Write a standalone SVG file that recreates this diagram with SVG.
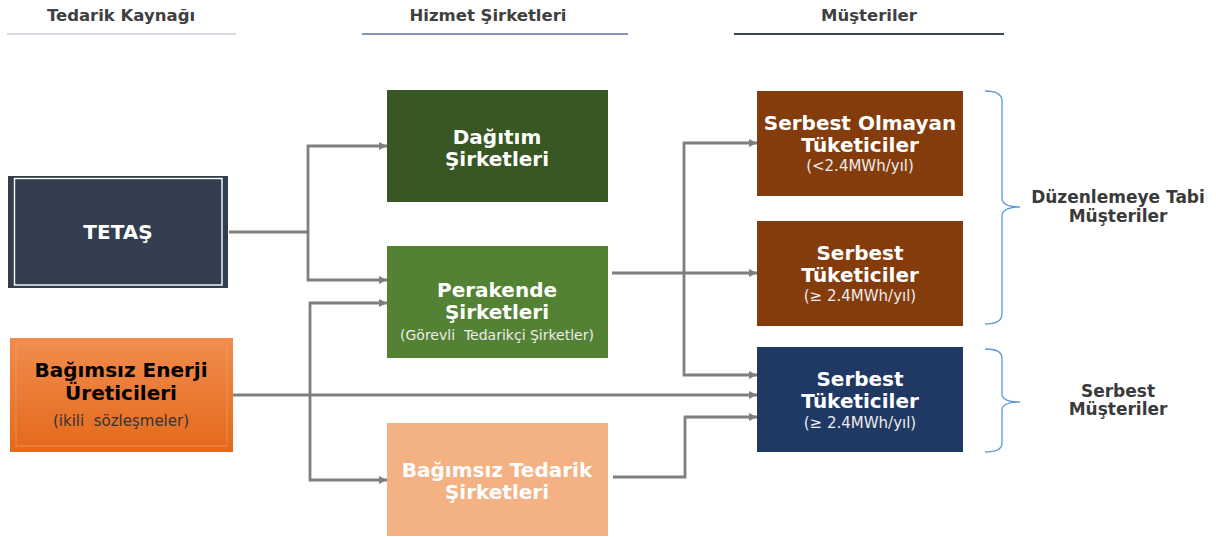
<svg xmlns="http://www.w3.org/2000/svg" width="1216" height="537" viewBox="0 0 1216 537">
<defs>
<style>
.hdr{font-family:"DejaVu Sans",Verdana,sans-serif;font-weight:bold;font-size:16.5px;fill:#404040;text-anchor:middle}
.bt{font-family:"DejaVu Sans",Verdana,sans-serif;font-weight:bold;font-size:20px;fill:#ffffff;text-anchor:middle}
.st{font-family:"DejaVu Sans",Verdana,sans-serif;font-size:14px;fill:#ececec;text-anchor:middle}
.st2{font-family:"DejaVu Sans",Verdana,sans-serif;font-size:15px;fill:#ececec;text-anchor:middle}
.lbl{font-family:"DejaVu Sans",Verdana,sans-serif;font-weight:bold;font-size:17px;fill:#3a3a3a;text-anchor:middle}
.con{fill:none;stroke:#7f7f7f;stroke-width:2.8}
.arr{marker-end:url(#ah)}
.brace{fill:none;stroke:#5b9bd5;stroke-width:1.3}
</style>
<marker id="ah" markerUnits="userSpaceOnUse" markerWidth="8" markerHeight="8" refX="8" refY="4" orient="auto">
<path d="M0,0 L8,4 L0,8 z" fill="#7f7f7f"/>
</marker>
<linearGradient id="og" x1="0" y1="0" x2="0" y2="1">
<stop offset="0" stop-color="#f18c4e"/>
<stop offset="1" stop-color="#e4691a"/>
</linearGradient>
</defs>
<rect width="1216" height="537" fill="#ffffff"/>

<g id="headers">
<text class="hdr" x="121" y="21">Tedarik Kaynağı</text>
<line x1="7" y1="34" x2="236" y2="34" stroke="#d9dde8" stroke-width="2.2"/>
<text class="hdr" x="488" y="21">Hizmet Şirketleri</text>
<line x1="362" y1="34" x2="628" y2="34" stroke="#8497b0" stroke-width="2.2"/>
<text class="hdr" x="869" y="21">Müşteriler</text>
<line x1="734" y1="34" x2="1004" y2="34" stroke="#3b4453" stroke-width="2.2"/>
</g>

<g id="connectors">
<polyline class="con" points="229,232 308,232"/>
<polyline class="con arr" points="308,232 308,146 387,146"/>
<polyline class="con arr" points="308,232 308,280 387,280"/>
<polyline class="con arr" points="232,395 757,395"/>
<polyline class="con arr" points="310,395 310,303 387,303"/>
<polyline class="con arr" points="310,395 310,480 387,480"/>
<polyline class="con arr" points="612,273 757,273"/>
<polyline class="con arr" points="684,273 684,143 757,143"/>
<polyline class="con arr" points="684,273 684,375 757,375"/>
<polyline class="con arr" points="613,477 685,477 685,417 757,417"/>
</g>

<g id="tetas">
<rect x="8" y="176" width="220" height="112" fill="#333f50"/>
<rect x="14.5" y="178.5" width="207.5" height="106.5" fill="none" stroke="#ffffff" stroke-width="1.4"/>
<text class="bt" x="118" y="239">TETAŞ</text>
</g>

<g id="bagimsiz-enerji">
<rect x="10" y="338" width="223" height="114" fill="url(#og)"/>
<rect x="16" y="344" width="211" height="102" fill="none" stroke="#f4a46a" stroke-width="1" opacity="0.6"/>
<text class="bt" x="121" y="377" style="fill:#000000">Bağımsız Enerji</text>
<text class="bt" x="121" y="400" style="fill:#000000">Üreticileri</text>
<text class="st2" x="121" y="426" style="fill:#333333" xml:space="preserve">(ikili  sözleşmeler)</text>
</g>

<g id="dagitim">
<rect x="387" y="90" width="221" height="112" fill="#385723"/>
<text class="bt" x="497" y="144">Dağıtım</text>
<text class="bt" x="497" y="166">Şirketleri</text>
</g>

<g id="perakende">
<rect x="387" y="246" width="221" height="112" fill="#548235"/>
<text class="bt" x="497" y="297">Perakende</text>
<text class="bt" x="497" y="319">Şirketleri</text>
<text class="st" x="497" y="340" xml:space="preserve">(Görevli  Tedarikçi Şirketler)</text>
</g>

<g id="bagimsiz-tedarik">
<rect x="387" y="423" width="221" height="113" fill="#f4b183"/>
<text class="bt" x="497" y="477">Bağımsız Tedarik</text>
<text class="bt" x="497" y="499">Şirketleri</text>
</g>

<g id="serbest-olmayan">
<rect x="757" y="91" width="206" height="105" fill="#843c0c"/>
<text class="bt" x="860" y="130">Serbest Olmayan</text>
<text class="bt" x="860" y="152">Tüketiciler</text>
<text class="st2" x="860" y="171">(&lt;2.4MWh/yıl)</text>
</g>

<g id="serbest-1">
<rect x="757" y="221" width="206" height="105" fill="#843c0c"/>
<text class="bt" x="860" y="260">Serbest</text>
<text class="bt" x="860" y="282">Tüketiciler</text>
<text class="st2" x="860" y="301">(≥ 2.4MWh/yıl)</text>
</g>

<g id="serbest-2">
<rect x="757" y="347" width="206" height="105" fill="#1f3864"/>
<text class="bt" x="860" y="386">Serbest</text>
<text class="bt" x="860" y="408">Tüketiciler</text>
<text class="st2" x="860" y="428">(≥ 2.4MWh/yıl)</text>
</g>

<g id="brace-duzenlemeye">
<path class="brace" d="M985,91 Q1002,91 1002,101 L1002,198 Q1002,207 1020,207 Q1002,207 1002,216 L1002,314 Q1002,324 985,324"/>
<text class="lbl" x="1118" y="203">Düzenlemeye Tabi</text>
<text class="lbl" x="1118" y="222">Müşteriler</text>
</g>

<g id="brace-serbest">
<path class="brace" d="M985,349 Q1002,349 1002,358 L1002,394 Q1002,402 1020,402 Q1002,402 1002,410 L1002,443 Q1002,452 985,452"/>
<text class="lbl" x="1118" y="397">Serbest</text>
<text class="lbl" x="1118" y="415">Müşteriler</text>
</g>
</svg>
